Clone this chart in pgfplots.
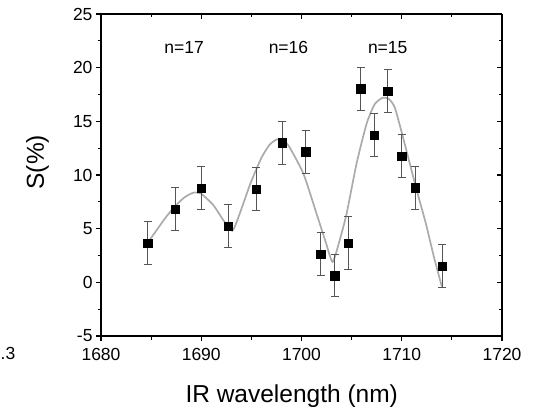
\documentclass[border=0pt]{standalone}
\usepackage{pgfplots}
\pgfplotsset{compat=1.18}
\usepackage{pgfplotstable}
\usepackage{fontspec}
\setmainfont{Liberation Sans}
\setsansfont{Liberation Sans}
\definecolor{fitgray}{HTML}{ABABAB}
\definecolor{errgray}{HTML}{555555}

\pgfplotstableread{
x y e
1684.65 3.63 2.0
1687.40 6.83 2.0
1690.00 8.76 2.0
1692.70 5.25 2.0
1695.50 8.67 2.0
1698.10 13.00 2.0
1700.40 12.17 2.0
1701.90 2.64 2.0
1703.30 0.62 1.95
1704.65 3.66 2.5
1705.92 18.05 2.0
1707.25 13.73 2.0
1708.58 17.83 2.0
1709.98 11.75 2.0
1711.37 8.82 2.0
1714.06 1.52 2.0
}\datatable

\pgfplotstableread{
x y
1684.6 3.6
1685.5 4.8
1686.5 6.1
1687.4 7.1
1688.3 7.9
1689.2 8.35
1690.0 8.25
1691.2 7.2
1692.2 5.8
1693.1 4.8
1693.8 6.3
1694.9 9.2
1696.0 11.6
1696.8 12.8
1697.5 13.3
1698.2 13.2
1698.8 12.6
1700.2 10.1
1701.5 6.4
1702.4 3.8
1703.1 1.9
1703.8 3.9
1704.5 6.4
1705.5 11.1
1706.5 14.8
1707.3 16.6
1708.1 17.2
1708.7 17.1
1709.3 16.3
1710.1 13.6
1711.4 8.9
1712.4 5.5
1713.2 2.4
1714.0 -0.4
}\fittable

\pgfplotsset{
  commonax/.style={
    at={(101bp,71bp)}, anchor=south west,
    width=401bp, height=322bp, scale only axis,
    xmin=1680, xmax=1720, ymin=-5, ymax=25,
    xtick={1680,1690,...,1720}, ytick={-5,0,...,25},
    minor x tick num=1, minor y tick num=1,
    axis line style={-, line width=1.8bp, black},
    major tick length=5bp, minor tick length=3.5bp,
    every tick/.style={black, line width=1.2bp},
    /pgf/number format/assume math mode=true,
    /pgf/number format/1000 sep={},
    ticklabel style={font=\fontsize{17.5bp}{20bp}\selectfont},
  }
}

\begin{document}
\begin{tikzpicture}
\path[use as bounding box] (0,0) rectangle (544bp,407bp);
\begin{axis}[commonax,
  axis x line*=top, axis y line*=right,
  tick align=inside,
  xticklabels={}, yticklabels={},
]
\end{axis}
\begin{axis}[commonax,
  axis x line*=bottom, axis y line*=left,
  tick align=outside,
  clip=false,
  xticklabel style={yshift=-3.5bp},
  xlabel={IR wavelength (nm)},
  ylabel={S(\%)},
  label style={font=\fontsize{24.5bp}{28bp}\selectfont},
  xlabel style={at={(axis description cs:0.4756,-0.208)}, anchor=base},
  ylabel style={at={(axis description cs:-0.158,0.54)}, anchor=center},
]
\addplot[color=fitgray, line width=1.7bp, no marks, smooth, tension=0.35] table[x=x,y=y] {\fittable};
\addplot[only marks, mark=square*, mark size=4.2bp, black,
  error bars/.cd, y dir=both, y explicit,
  error bar style={errgray, line width=1.1bp},
  error mark options={rotate=90, mark size=4bp, errgray, line width=1.1bp}]
  table[x=x,y=y,y error=e] {\datatable};
\node[font=\fontsize{17.5bp}{20bp}\selectfont] at (axis cs:1688.3,21.9) {n=17};
\node[font=\fontsize{17.5bp}{20bp}\selectfont] at (axis cs:1698.7,21.9) {n=16};
\node[font=\fontsize{17.5bp}{20bp}\selectfont] at (axis cs:1708.6,21.9) {n=15};
\end{axis}
\node[anchor=base west, inner sep=0pt, font=\fontsize{17.5bp}{20bp}\selectfont] at (0.5bp,47bp) {.3};
\end{tikzpicture}
\end{document}
